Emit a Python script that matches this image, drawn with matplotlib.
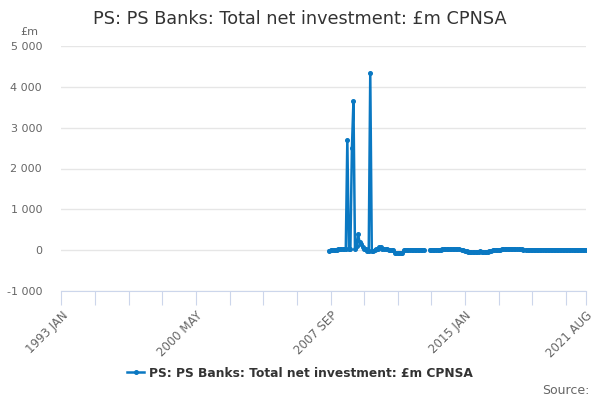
import numpy as np
import matplotlib
matplotlib.use("Agg")
import matplotlib.pyplot as plt

MONTHS = ["JAN", "FEB", "MAR", "APR", "MAY", "JUN", "JUL", "AUG", "SEP", "OCT", "NOV", "DEC"]
first_year, last_year, last_month = 1993, 2021, 8
categories = [f"{y} {m}" for y in range(first_year, last_year + 1) for i, m in enumerate(MONTHS)
              if not (y == last_year and i >= last_month)]

data_start = "2007 AUG"
nan = np.nan
values = [
    -10, 0, 5, 10, 10, 15, 20, 20, 25, 25, 30, 40,            # 2007 AUG - 2008 JUL
    2700, 30, 40, 2500, 3650, 30, 100, 390, 200, 150, 80, 40,  # 2008 AUG - 2009 JUL
    20, -20, -20, 4330, -30, -30, 0, 20, 40, 80, 80, 40,       # 2009 AUG - 2010 JUL
    30, 20, 20, 10, 10, 0, 0, -60, -70, -70, -70, -60,         # 2010 AUG - 2011 JUL
    -60, 0, 10, 10, 10, 10, 15, 15, 15, 15, 15, 15,           # 2011 AUG - 2012 JUL
    15, 15, 15, nan, nan, nan, 10, 10, 15, 15, 15, 15,         # 2012 AUG - 2013 JUL
    15, 15, 20, 20, 20, 20, 20, 25, 30, 35, 40, 35,            # 2013 AUG - 2014 JUL
    30, 35, nan, 15, 5, -10, -30, -40, -50, -50, -55, -50,     # 2014 AUG - 2015 JUL
    -50, -40, -40, -30, -40, -50, -50, -55, -50, -30, -10, 0,  # 2015 AUG - 2016 JUL
    0, 5, 10, 10, 15, 20, 20, 25, 30, 35, 40, 40,              # 2016 AUG - 2017 JUL
    35, 35, 30, 25, 20, 20, 20, 15, nan, 15, 15, 15,           # 2017 AUG - 2018 JUL
    15, 15, 15, 15, 15, 15, 15, 15, 15, 15, 15, 15,            # 2018 AUG - 2019 JUL
    15, 15, 15, 15, 15, 15, 15, 15, 15, 15, 15, 15,            # 2019 AUG - 2020 JUL
    15, 15, 15, 15, 15, 15, 15, 15, 15, 15, 15, 15, 15,        # 2020 AUG - 2021 AUG
]
series_name = "PS: PS Banks: Total net investment: £m CPNSA"
title = "PS: PS Banks: Total net investment: £m CPNSA"
tick_labels = ["1993 JAN", "2000 MAY", "2007 SEP", "2015 JAN", "2021 AUG"]

n = len(categories)
start = categories.index(data_start)
y = np.full(n, np.nan)
y[start:start + len(values)] = values[: n - start]
x = np.arange(n)

color = "#0a78c2"
fig = plt.figure(figsize=(6, 4), dpi=100)
ax = fig.add_axes([0.1025, 0.2725, 0.8738, 0.6125])
ax.plot(x, y, color=color, lw=1.8, marker="o", ms=2.6, label=series_name, zorder=3)

ax.set_xlim(0, n - 1)
ax.set_ylim(-1000, 5000)
ax.set_yticks(np.arange(-1000, 5001, 1000))
ax.set_yticklabels([f"{int(v):,}".replace(",", " ") for v in np.arange(-1000, 5001, 1000)])
ax.grid(axis="y", color="#e6e6e6", lw=1)
ax.set_axisbelow(True)

minor = list(range(0, n, 22))
if minor[-1] != n - 1:
    minor.append(n - 1)
ax.set_xticks(minor)
ax.set_xticklabels([c if c in tick_labels else "" for c in [categories[i] for i in minor]],
                   rotation=45, ha="right", va="top", rotation_mode="anchor")

for s in ["top", "right", "left"]:
    ax.spines[s].set_visible(False)
ax.spines["bottom"].set_color("#ccd6eb")
ax.tick_params(axis="x", length=10, color="#ccd6eb", labelcolor="#666666", labelsize=8.5, pad=3)
ax.tick_params(axis="y", length=0, labelcolor="#666666", labelsize=8, pad=14)

fig.text(0.5, 0.953, title, ha="center", va="center", fontsize=12.7, color="#333333")
fig.text(0.033, 0.92, "£m", ha="left", va="center", fontsize=8, color="#666666")
fig.text(0.982, 0.025, "Source:", ha="right", va="center", fontsize=9, color="#666666")

leg = fig.legend(loc="center", bbox_to_anchor=(0.5, 0.067), frameon=False,
                 prop={"weight": "bold", "size": 8.8}, handlelength=1.4, handletextpad=0.4)
for t in leg.get_texts():
    t.set_color("#333333")

fig.savefig("out.png", dpi=100)
